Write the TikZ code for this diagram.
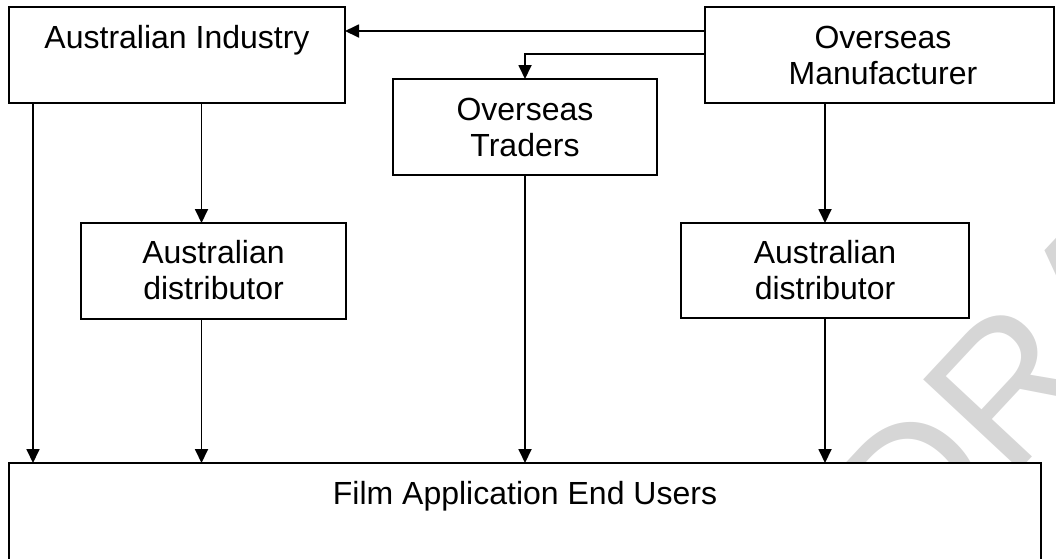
\documentclass[tikz,border=0pt]{standalone}
\usepackage{fontspec}
\setmainfont{Liberation Sans}
\usetikzlibrary{arrows.meta}

\tikzset{
  box/.style={draw, line width=1.8pt, fill=white, outer sep=0pt, inner sep=0pt, rectangle},
  lbl/.style={inner sep=0pt, font=\fontsize{32}{36}\selectfont, anchor=base},
  flow/.style={line width=1.8pt, -{Triangle[length=14pt,width=13pt]}},
  wmark/.style={rotate=47, anchor=base west, inner sep=0pt, text=black!16,
                font=\fontsize{192}{192}\selectfont},
}

\begin{document}
\begin{tikzpicture}[x=1pt, y=-1pt]
  \clip (0,0) rectangle (1056,558);

  % faint watermark behind the chart
  \node[wmark] (wm) at (915,583) {DRAFT};

  % boxes
  \node[box, minimum width=336pt, minimum height=96pt] (ai)  at (177,55)    {};
  \node[box, minimum width=349pt, minimum height=96pt] (mfr) at (879.5,55)  {};
  \node[box, minimum width=264pt, minimum height=96pt] (tr)  at (525,127)   {};
  \node[box, minimum width=265pt, minimum height=96pt] (ld)  at (213.5,271) {};
  \node[box, minimum width=288pt, minimum height=95pt] (rd)  at (825,270.5) {};
  \node[box, minimum width=1032pt, minimum height=120pt] (fe) at (525,523)  {};

  % labels
  \node[lbl] (ai-t)  at (177,48.5) {Australian Industry};
  \node[lbl] (mfr-t) at (883,48.5) {\parbox[t]{320pt}{\centering Overseas\\Manufacturer}};
  \node[lbl] (tr-t)  at (525,120)  {\parbox[t]{240pt}{\centering Overseas\\Traders}};
  \node[lbl] (ld-t)  at (213.5,263) {\parbox[t]{240pt}{\centering Australian\\distributor}};
  \node[lbl] (rd-t)  at (825,263)  {\parbox[t]{240pt}{\centering Australian\\distributor}};
  \node[lbl] (fe-t)  at (525,504)  {Film Application End Users};

  % connectors
  \draw[flow] ([yshift=24pt]mfr.west) -- ([yshift=24pt]ai.east);
  \draw[flow] ([yshift=1pt]mfr.west) -| (tr.north);
  \draw[flow] ([xshift=24pt]ai.south west) -- ([xshift=24pt]ai.south west |- fe.north);
  \draw[flow] ([xshift=24.5pt]ai.south) -- ([xshift=24.5pt]ai.south |- ld.north);
  \draw[flow] ([xshift=-12pt]ld.south) -- ([xshift=-12pt]ld.south |- fe.north);
  \draw[flow] (tr.south) -- (tr.south |- fe.north);
  \draw[flow] (rd.north |- mfr.south) -- (rd.north);
  \draw[flow] (rd.south) -- (rd.south |- fe.north);
\end{tikzpicture}
\end{document}
